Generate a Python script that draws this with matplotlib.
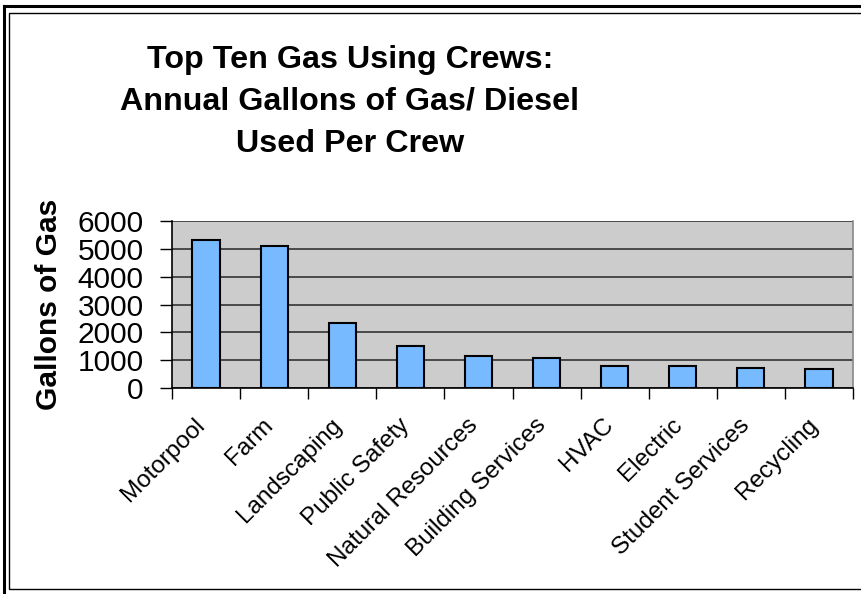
import matplotlib
matplotlib.use("Agg")
import matplotlib.pyplot as plt
from matplotlib.patches import Rectangle
from matplotlib.lines import Line2D
from matplotlib.transforms import ScaledTranslation

plt.rcParams['font.family'] = ['Liberation Sans', 'DejaVu Sans']

crews = ["Motorpool", "Farm", "Landscaping", "Public Safety", "Natural Resources",
         "Building Services", "HVAC", "Electric", "Student Services", "Recycling"]
gallons = [5300, 5100, 2350, 1500, 1150, 1070, 800, 800, 730, 700]
y_ticks = [0, 1000, 2000, 3000, 4000, 5000, 6000]

title = "Top Ten Gas Using Crews:\nAnnual Gallons of Gas/ Diesel\nUsed Per Crew"
y_label = "Gallons of Gas"

W, H = 861, 594
fig = plt.figure(figsize=(W / 100, H / 100), dpi=100)

# chart frame: thick outer rule and thin inner rule
fig.add_artist(Line2D([4 / W, 4 / W], [0, 1 - 6 / H], transform=fig.transFigure, color='black', lw=2.2))
fig.add_artist(Line2D([4 / W, 1], [1 - 6 / H, 1 - 6 / H], transform=fig.transFigure, color='black', lw=2.2))
fig.add_artist(Rectangle((9 / W, 1 - 589 / H), 2, (589 - 13) / H, transform=fig.transFigure,
                         fill=False, edgecolor='black', lw=1.0))

ax = fig.add_axes([172 / W, 1 - 388 / H, (853 - 172) / W, (388 - 221) / H])
ax.set_facecolor('#CCCCCC')

x = list(range(len(crews)))
ax.bar(x, gallons, width=0.4, color='#78BAFF', edgecolor='black', linewidth=1.5, zorder=3)

ax.set_xlim(-0.5, len(crews) - 0.5)
ax.set_ylim(0, 6000)
ax.set_yticks(y_ticks)
ax.set_yticklabels([str(v) for v in y_ticks], fontsize=21.5)
ax.yaxis.grid(True, color='#333333', lw=1.2, zorder=1)
ax.set_axisbelow(True)
ax.tick_params(axis='y', direction='out', length=9, width=1, pad=11.5)

# tick marks sit on category boundaries; names are placed under each bar
ax.set_xticks([i - 0.5 for i in range(len(crews) + 1)])
ax.set_xticklabels([])
ax.tick_params(axis='x', direction='out', length=8, width=1)

label_trans = ax.get_xaxis_transform() + ScaledTranslation(-12 / 100, -26 / 100, fig.dpi_scale_trans)
for xi, name in zip(x, crews):
    ax.text(xi, 0, name, transform=label_trans, fontsize=17.5, rotation=45,
            ha='right', va='top', rotation_mode='anchor', clip_on=False)

for side in ('left', 'bottom'):
    ax.spines[side].set_color('black')
    ax.spines[side].set_linewidth(1.2)
ax.spines['top'].set_visible(False)
ax.spines['right'].set_color('#888888')
ax.spines['right'].set_linewidth(1.2)

fig.text(49 / W, 1 - 304 / H, y_label, rotation=90, ha='center', va='center',
         fontsize=21.5, fontweight='bold')

fig.text(350 / W, 1 - 102 / H, title, ha='center', va='center', fontsize=23.2,
         fontweight='bold', linespacing=1.54)

fig.savefig('out.png', dpi=100)
